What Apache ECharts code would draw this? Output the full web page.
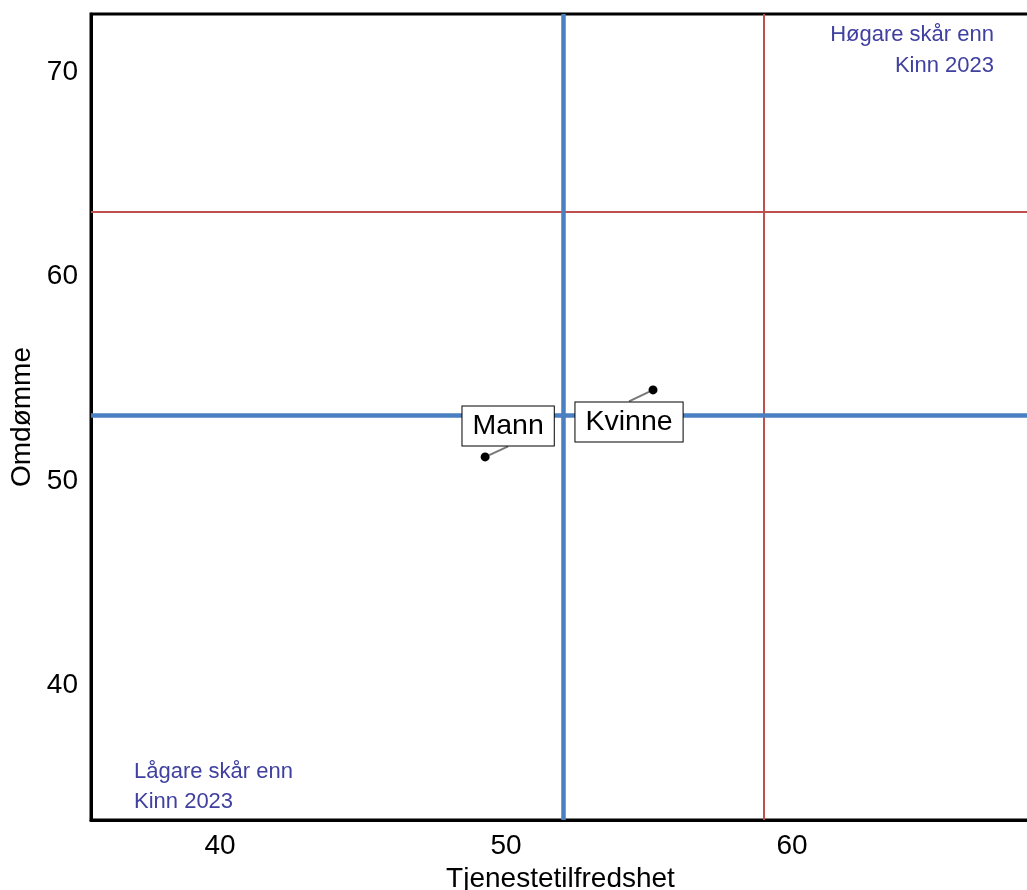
<!DOCTYPE html>
<html><head><meta charset="utf-8">
<script src="https://cdn.jsdelivr.net/npm/echarts@6/dist/echarts.min.js"></script>
<style>html,body{margin:0;padding:0;background:#fff}#c{width:1027px;height:890px}</style>
</head><body><div id="c"></div>
<script>
const groups = ['Mann', 'Kvinne'];
const tjenestetilfredshet = [49.27, 55.14];
const omdomme = [51.17, 54.45];
const refBlue = {x: 52.01, y: 53.2};   // Kinn 2023
const refRed = {x: 59.0, y: 63.15};
const xTicks = [40, 50, 60];
const yTicks = [40, 50, 60, 70];
const labelShift = {Mann: [23, -31], Kvinne: [-24, 32]};

const chart = echarts.init(document.getElementById('c'));
const FONT = '"Liberation Sans", Arial, sans-serif';
const annoFont = '22px "Liberation Sans", Arial, sans-serif';
chart.setOption({
  animation: false,
  grid: {left: 91, right: -3, top: 14, bottom: 70, containLabel: false, outerBoundsMode: 'none',
         show: true, borderColor: '#000', borderWidth: 3},
  xAxis: {
    type: 'value', min: 35.49, max: 68.32,
    name: 'Tjenestetilfredshet', nameLocation: 'middle', nameGap: 44,
    nameTextStyle: {fontFamily: FONT, fontSize: 28, color: '#000'},
    axisLine: {show: true, onZero: false, lineStyle: {color: '#000', width: 3}},
    axisTick: {show: false},
    splitLine: {show: false},
    axisLabel: {customValues: xTicks, fontFamily: FONT, fontSize: 28, color: '#000', margin: 12}
  },
  yAxis: {
    type: 'value', min: 33.4, max: 72.85,
    name: 'Omdømme', nameLocation: 'middle', nameGap: 53,
    nameTextStyle: {fontFamily: FONT, fontSize: 28, color: '#000'},
    axisLine: {show: true, onZero: false, lineStyle: {color: '#000', width: 3}},
    axisTick: {show: false},
    splitLine: {show: false},
    axisLabel: {customValues: yTicks, fontFamily: FONT, fontSize: 28, color: '#000', margin: 13}
  },
  graphic: [
    {type: 'text', right: 33, top: 24, style: {text: 'Høgare skår enn', fill: '#4040a0', font: annoFont}},
    {type: 'text', right: 33, top: 55, style: {text: 'Kinn 2023', fill: '#4040a0', font: annoFont}},
    {type: 'text', left: 134, top: 761, style: {text: 'Lågare skår enn', fill: '#4040a0', font: annoFont}},
    {type: 'text', left: 134, top: 791, style: {text: 'Kinn 2023', fill: '#4040a0', font: annoFont}}
  ],
  series: [
    {
      type: 'line', data: [], silent: true,
      markLine: {
        symbol: 'none', silent: true, label: {show: false},
        data: [
          {xAxis: refRed.x, lineStyle: {color: '#c0504d', width: 2, type: 'solid'}},
          {yAxis: refRed.y, lineStyle: {color: '#c0504d', width: 2, type: 'solid'}},
          {xAxis: refBlue.x, lineStyle: {color: '#4a7fc1', width: 4.5, type: 'solid'}},
          {yAxis: refBlue.y, lineStyle: {color: '#4a7fc1', width: 4.5, type: 'solid'}}
        ]
      }
    },
    {
      type: 'scatter', symbolSize: 9, itemStyle: {color: '#000', opacity: 1}, z: 5,
      data: groups.map((g, i) => ({name: g, value: [tjenestetilfredshet[i], omdomme[i]]})),
      label: {
        show: true, position: 'inside', formatter: p => p.name,
        fontFamily: FONT, fontSize: 28.5, color: '#000',
        backgroundColor: '#fff', borderColor: '#000', borderWidth: 1,
        padding: [6, 10, 5, 10], lineHeight: 28
      },
      labelLine: {show: true, lineStyle: {color: '#777', width: 2, opacity: 1}},
      labelLayout: p => {
        const s = labelShift[groups[p.dataIndex]];
        return {dx: s[0], dy: s[1]};
      }
    }
  ]
});
</script></body></html>
